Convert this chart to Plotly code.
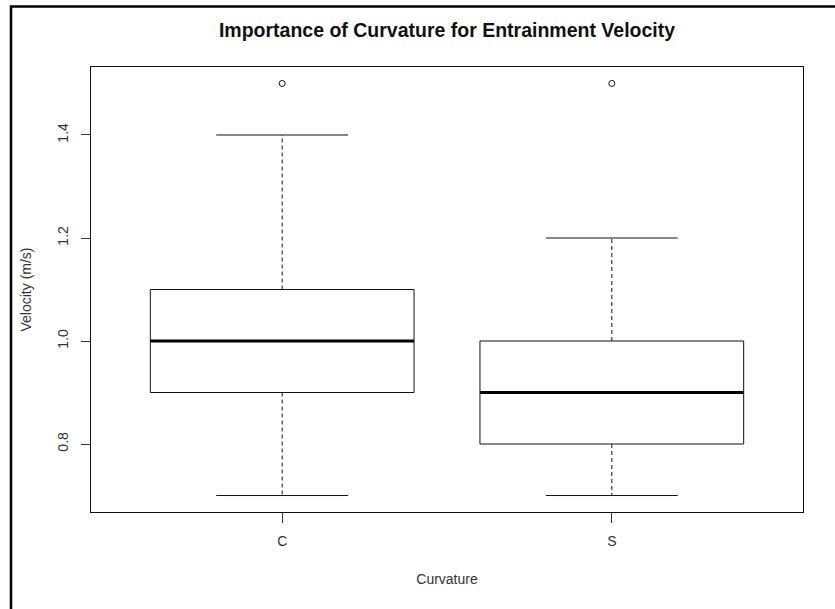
import plotly.graph_objects as go

# ---- data ----
categories = ["C", "S"]
whisker_low = [0.7, 0.7]
q1 = [0.9, 0.8]
median = [1.0, 0.9]
q3 = [1.1, 1.0]
whisker_high = [1.4, 1.2]
outliers = [[1.5], [1.5]]
y_ticks = [0.8, 1.0, 1.2, 1.4]
y_ticktext = ["0.8", "1.0", "1.2", "1.4"]

W, H = 835, 609
L, R, T, B = 91, 32, 67, 97
pw, ph = W - L - R, H - T - B

line_col = "#111111"
half_box = 0.4
half_cap = 0.2

fig = go.Figure()
pos = list(range(1, len(categories) + 1))
for i, p in enumerate(pos):
    # box
    fig.add_trace(go.Scatter(
        x=[p - half_box, p + half_box, p + half_box, p - half_box, p - half_box],
        y=[q1[i], q1[i], q3[i], q3[i], q1[i]],
        mode="lines", line=dict(color=line_col, width=1), hoverinfo="skip"))
    # median
    fig.add_trace(go.Scatter(
        x=[p - half_box, p + half_box], y=[median[i], median[i]],
        mode="lines", line=dict(color="#000000", width=3), hoverinfo="skip"))
    # whiskers (dashed)
    fig.add_trace(go.Scatter(
        x=[p, p], y=[q3[i], whisker_high[i]],
        mode="lines", line=dict(color=line_col, width=1, dash="4px,3px"), hoverinfo="skip"))
    fig.add_trace(go.Scatter(
        x=[p, p], y=[q1[i], whisker_low[i]],
        mode="lines", line=dict(color=line_col, width=1, dash="4px,3px"), hoverinfo="skip"))
    # caps
    fig.add_trace(go.Scatter(
        x=[p - half_cap, p + half_cap], y=[whisker_high[i], whisker_high[i]],
        mode="lines", line=dict(color=line_col, width=1), hoverinfo="skip"))
    fig.add_trace(go.Scatter(
        x=[p - half_cap, p + half_cap], y=[whisker_low[i], whisker_low[i]],
        mode="lines", line=dict(color=line_col, width=1), hoverinfo="skip"))
    # outliers
    fig.add_trace(go.Scatter(
        x=[p] * len(outliers[i]), y=outliers[i], mode="markers",
        marker=dict(symbol="circle-open", size=6, color=line_col, line=dict(width=1)),
        hoverinfo="skip"))

font_family = "Liberation Sans, Arial, sans-serif"

fig.update_layout(
    width=W, height=H,
    margin=dict(l=L, r=R, t=T, b=B, pad=0),
    paper_bgcolor="white", plot_bgcolor="white",
    showlegend=False,
    font=dict(family=font_family, size=14, color="#333333"),
    title=dict(text="<b>Importance of Curvature for Entrainment Velocity</b>",
               x=(L + pw / 2) / W, xanchor="center",
               y=1 - 30 / H, yanchor="middle", yref="container",
               font=dict(family=font_family, size=19.5, color="#111111")),
    xaxis=dict(range=[0.42, 2.58], tickvals=pos, ticktext=categories,
               showgrid=False, zeroline=False,
               showline=True, linecolor="#111111", linewidth=1, mirror=True,
               ticks="outside", ticklen=10, tickcolor="#333333", tickwidth=1,
               ticklabelstandoff=6,
               tickfont=dict(size=14, color="#333333"),
               title=dict(text="Curvature", standoff=26,
                          font=dict(size=14, color="#333333"))),
    yaxis=dict(range=[0.668, 1.532], tickvals=y_ticks, ticktext=y_ticktext,
               tickangle=-90,
               showgrid=False, zeroline=False,
               showline=True, linecolor="#111111", linewidth=1, mirror=True,
               ticks="outside", ticklen=9, tickcolor="#333333", tickwidth=1,
               ticklabelstandoff=7,
               tickfont=dict(size=14, color="#333333"),
               title=dict(text="Velocity (m/s)", standoff=20,
                          font=dict(size=14, color="#333333"))),
)

# outer image frame (top and left edges visible; right/bottom run off the page)
fig.add_shape(type="rect", xref="paper", yref="paper",
              x0=(11 - L) / pw, x1=(W + 20 - L) / pw,
              y0=-(H + 20 - T - ph) / ph - 0.2, y1=(T + ph - 6.5) / ph,
              line=dict(color="#000000", width=2.5), layer="above")

fig.write_html("out.html")
